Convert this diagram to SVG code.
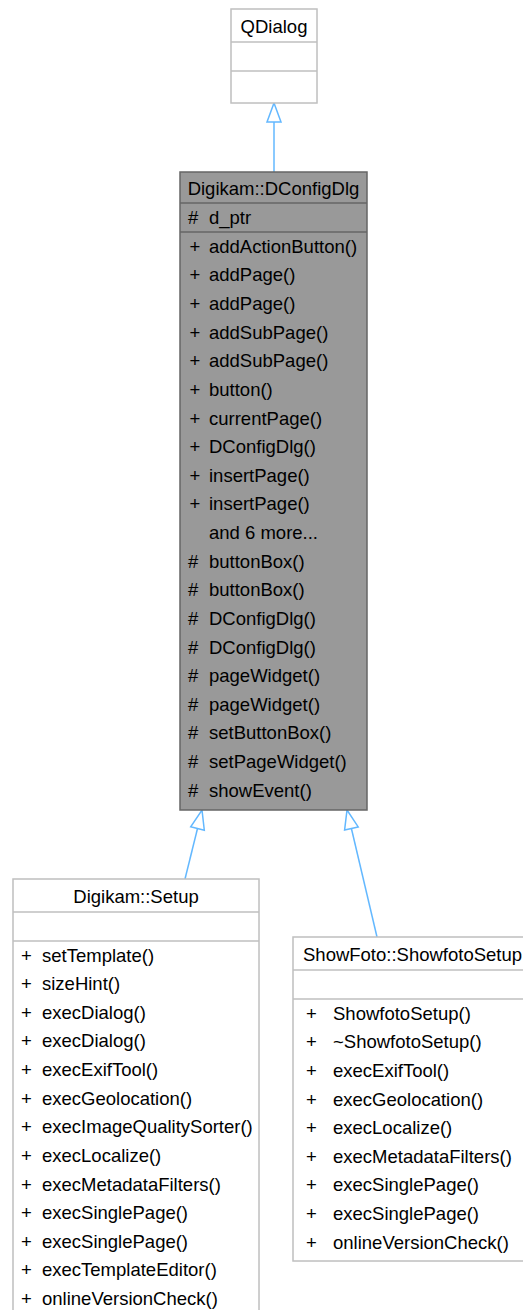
<svg xmlns="http://www.w3.org/2000/svg" width="523" height="1310" viewBox="0 0 523 1310">
<style>
  text { font-family: "Liberation Sans", Arial, Helvetica, sans-serif; font-size: 18.5px; fill: #000; }
  .mid { text-anchor: middle; }
  .box { fill: #ffffff; stroke: #bfbfbf; stroke-width: 1.5; }
  .sep { stroke: #bfbfbf; stroke-width: 1.5; }
  .boxhl { fill: #999999; stroke: #666666; stroke-width: 1.5; }
  .sephl { stroke: #666666; stroke-width: 1.5; }
  .edge { fill: none; stroke: #63b8ff; stroke-width: 1.5; }
  .head { fill: #ffffff; stroke: #63b8ff; stroke-width: 1.5; }
</style>
<rect width="523" height="1310" fill="#ffffff"/>

<g id="connectors">
  <line class="edge" x1="274" y1="122" x2="274" y2="172"/>
  <polygon class="head" points="274,103 281,122 267,122"/>
  <line class="edge" x1="197.5" y1="828.5" x2="185" y2="879"/>
  <polygon class="head" points="202,810 204.3,830.2 190.7,826.8"/>
  <line class="edge" x1="351.4" y1="828.5" x2="377" y2="937"/>
  <polygon class="head" points="347,810 358.2,826.9 344.6,830.1"/>
</g>

<g id="node-qdialog">
  <rect class="box" x="231" y="9" width="86" height="94"/>
  <line class="sep" x1="231" y1="42" x2="317" y2="42"/>
  <line class="sep" x1="231" y1="71" x2="317" y2="71"/>
  <text class="mid" x="274" y="32.5">QDialog</text>
</g>

<g id="node-dconfigdlg">
  <rect class="boxhl" x="180" y="172" width="187" height="638"/>
  <line class="sephl" x1="180" y1="203" x2="367" y2="203"/>
  <line class="sephl" x1="180" y1="232" x2="367" y2="232"/>
  <text class="mid" x="273.5" y="194.5">Digikam::DConfigDlg</text>
  <text x="188" y="223.5">#</text><text x="209" y="223.5">d_ptr</text>
  <text x="189.5" y="252.7">+</text><text x="209" y="252.7">addActionButton()</text>
  <text x="189.5" y="281.3">+</text><text x="209" y="281.3">addPage()</text>
  <text x="189.5" y="310">+</text><text x="209" y="310">addPage()</text>
  <text x="189.5" y="338.6">+</text><text x="209" y="338.6">addSubPage()</text>
  <text x="189.5" y="367.2">+</text><text x="209" y="367.2">addSubPage()</text>
  <text x="189.5" y="395.9">+</text><text x="209" y="395.9">button()</text>
  <text x="189.5" y="424.5">+</text><text x="209" y="424.5">currentPage()</text>
  <text x="189.5" y="453.1">+</text><text x="209" y="453.1">DConfigDlg()</text>
  <text x="189.5" y="481.7">+</text><text x="209" y="481.7">insertPage()</text>
  <text x="189.5" y="510.4">+</text><text x="209" y="510.4">insertPage()</text>
  <text x="209" y="539">and 6 more...</text>
  <text x="188" y="567.6">#</text><text x="209" y="567.6">buttonBox()</text>
  <text x="188" y="596.3">#</text><text x="209" y="596.3">buttonBox()</text>
  <text x="188" y="624.9">#</text><text x="209" y="624.9">DConfigDlg()</text>
  <text x="188" y="653.5">#</text><text x="209" y="653.5">DConfigDlg()</text>
  <text x="188" y="682.2">#</text><text x="209" y="682.2">pageWidget()</text>
  <text x="188" y="710.8">#</text><text x="209" y="710.8">pageWidget()</text>
  <text x="188" y="739.4">#</text><text x="209" y="739.4">setButtonBox()</text>
  <text x="188" y="768">#</text><text x="209" y="768">setPageWidget()</text>
  <text x="188" y="796.7">#</text><text x="209" y="796.7">showEvent()</text>
</g>

<g id="node-setup">
  <rect class="box" x="13" y="879" width="246" height="440"/>
  <line class="sep" x1="13" y1="912" x2="259" y2="912"/>
  <line class="sep" x1="13" y1="941" x2="259" y2="941"/>
  <text class="mid" x="136" y="903">Digikam::Setup</text>
  <text x="21" y="961.5">+</text><text x="42" y="961.5">setTemplate()</text>
  <text x="21" y="990.1">+</text><text x="42" y="990.1">sizeHint()</text>
  <text x="21" y="1018.8">+</text><text x="42" y="1018.8">execDialog()</text>
  <text x="21" y="1047.4">+</text><text x="42" y="1047.4">execDialog()</text>
  <text x="21" y="1076">+</text><text x="42" y="1076">execExifTool()</text>
  <text x="21" y="1104.7">+</text><text x="42" y="1104.7">execGeolocation()</text>
  <text x="21" y="1133.3">+</text><text x="42" y="1133.3">execImageQualitySorter()</text>
  <text x="21" y="1161.9">+</text><text x="42" y="1161.9">execLocalize()</text>
  <text x="21" y="1190.5">+</text><text x="42" y="1190.5">execMetadataFilters()</text>
  <text x="21" y="1219.2">+</text><text x="42" y="1219.2">execSinglePage()</text>
  <text x="21" y="1247.8">+</text><text x="42" y="1247.8">execSinglePage()</text>
  <text x="21" y="1276.4">+</text><text x="42" y="1276.4">execTemplateEditor()</text>
  <text x="21" y="1305.1">+</text><text x="42" y="1305.1">onlineVersionCheck()</text>
</g>

<g id="node-showfotosetup">
  <rect class="box" x="293" y="937" width="240" height="324"/>
  <line class="sep" x1="293" y1="970" x2="533" y2="970"/>
  <line class="sep" x1="293" y1="999" x2="533" y2="999"/>
  <text x="303" y="961">ShowFoto::ShowfotoSetup</text>
  <text x="306" y="1019.6">+</text><text x="333" y="1019.6">ShowfotoSetup()</text>
  <text x="306" y="1048.2">+</text><text x="333" y="1048.2">~ShowfotoSetup()</text>
  <text x="306" y="1076.9">+</text><text x="333" y="1076.9">execExifTool()</text>
  <text x="306" y="1105.5">+</text><text x="333" y="1105.5">execGeolocation()</text>
  <text x="306" y="1134.1">+</text><text x="333" y="1134.1">execLocalize()</text>
  <text x="306" y="1162.8">+</text><text x="333" y="1162.8">execMetadataFilters()</text>
  <text x="306" y="1191.4">+</text><text x="333" y="1191.4">execSinglePage()</text>
  <text x="306" y="1220">+</text><text x="333" y="1220">execSinglePage()</text>
  <text x="306" y="1248.6">+</text><text x="333" y="1248.6">onlineVersionCheck()</text>
</g>
</svg>
